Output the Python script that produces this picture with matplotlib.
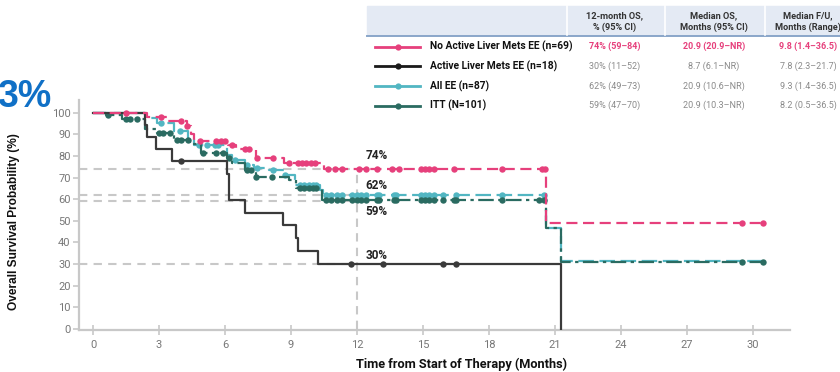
import numpy as np
import matplotlib
matplotlib.use("Agg")
import matplotlib.pyplot as plt
from matplotlib.patches import Rectangle
from matplotlib.lines import Line2D

plt.rcParams['font.family'] = ['Roboto', 'DejaVu Sans']

# --- Kaplan-Meier data (months, % surviving) ---
no_active_t = [0, 2.45, 3.35, 4.25, 4.45, 4.6, 6.15, 6.5, 7.4, 8.7, 10.5, 20.6, 30.5]
no_active_s = [100, 98, 96, 94, 90, 87, 85, 83, 79, 76.5, 74, 49, 49]
no_active_cens = [1.5, 3.1, 4.0, 4.27, 4.86, 5.6, 5.8, 6.0, 6.3, 6.9, 7.1, 7.45, 8.2,
                  8.9, 9.3, 9.5, 9.7, 9.9, 10.1, 10.7, 11.0, 11.3, 12.1, 12.4, 12.9,
                  13.6, 13.9, 14.9, 15.1, 15.3, 15.5, 16.4, 18.6, 20.4, 20.55, 29.5, 30.45]

active_t = [0, 2.36, 2.45, 2.86, 3.6, 6.1, 6.2, 6.9, 8.65, 9.25, 9.3, 10.25, 21.3]
active_s = [100, 94.4, 88.9, 83.3, 77.8, 71.8, 59.8, 53.8, 47.8, 41.8, 35.9, 29.9, 0]
active_cens = [4.0, 11.75, 13.2, 15.9, 16.5]

all_ee_t = [0, 2.4, 2.9, 3.7, 4.3, 4.6, 6.1, 6.3, 6.9, 7.3, 8.0, 8.7, 9.2, 10.3, 10.45,
            20.6, 21.3, 30.45]
all_ee_s = [100, 97.7, 95.2, 91.6, 88, 85, 80.4, 78, 75.8, 74.2, 73.5, 71, 66.5, 64, 62,
            46.5, 31.5, 31.5]
all_ee_cens = [3.1, 3.95, 4.8, 5.2, 5.55, 5.7, 6.45, 7.0, 7.45, 8.2, 8.75, 9.4, 9.6, 9.8,
               10.0, 10.15, 10.6, 10.8, 11.1, 11.3, 11.8, 12.0, 12.2, 12.4, 12.9, 13.0,
               13.7, 13.8, 14.9, 15.1, 15.3, 15.5, 15.9, 16.5, 18.6, 20.5]

itt_t = [0, 0.6, 1.3, 2.36, 2.9, 3.7, 4.4, 4.9, 6.1, 6.3, 6.9, 7.4, 8.9, 9.25, 10.4,
         20.6, 21.3, 30.45]
itt_s = [100, 99, 97, 92.5, 90.6, 87.5, 85.5, 81.5, 79, 76.5, 73.5, 70.3, 68.8, 65, 59.6,
         46.5, 31, 31]
itt_cens = [0.7, 1.5, 1.7, 2.0, 3.0, 3.2, 3.5, 3.8, 4.0, 4.3, 5.0, 5.6, 5.9, 6.2, 7.0,
            7.2, 7.4, 8.15, 9.4, 9.6, 9.8, 10.0, 10.15, 10.6, 10.8, 11.1, 11.3, 11.8,
            12.0, 12.2, 12.4, 12.9, 13.0, 13.7, 13.8, 14.9, 15.1, 15.3, 15.5, 15.9, 16.4,
            16.5, 18.6, 20.3, 20.5, 29.5, 30.45]

# 12-month landmark values
landmark_month = 12
landmark_vals = [74, 62, 59, 30]
landmark_text_y = [80.3, 66.5, 54.5, 33.7]

# legend table
group_labels = ["No Active Liver Mets EE (n=69)", "Active Liver Mets EE (n=18)",
                "All EE (n=87)", "ITT (N=101)"]
os12 = ["74% (59\u201384)", "30% (11\u201352)", "62% (49\u201373)", "59% (47\u201370)"]
median_os = ["20.9 (20.9\u2013NR)", "8.7 (6.1\u2013NR)", "20.9 (10.6\u2013NR)", "20.9 (10.3\u2013NR)"]
median_fu = ["9.8 (1.4\u201336.5)", "7.8 (2.3\u201321.7)", "9.3 (1.4\u201336.5)", "8.2 (0.5\u201336.5)"]
col_headers = ["12-month OS,\n% (95% CI)", "Median OS,\nMonths (95% CI)", "Median F/U,\nMonths (Range)"]

PINK = "#e6407c"
BLACK = "#1a1a1a"
LTEAL = "#52b6c2"
DTEAL = "#2a6b61"
GRID = "#c8c8c8"

fig = plt.figure(figsize=(8.4, 3.72), dpi=100)
ax = fig.add_axes([79 / 840, 42 / 372, 711 / 840, 230 / 372])

def km(t, s, cens, color, dashes, z):
    ax.step(t, s, where='post', color=color, lw=1.6, dashes=dashes, zorder=z)
    t = np.asarray(t)
    s = np.asarray(s)
    idx = np.searchsorted(t, cens, side='right') - 1
    ax.plot(cens, s[idx], 'o', color=color, ms=4.6, mec='none', zorder=z + 0.5)

# landmark reference lines
for v in landmark_vals:
    ax.plot([-0.64, landmark_month], [v, v], color=GRID, lw=1.5, dashes=(4, 3), zorder=1)
ax.plot([landmark_month, landmark_month], [0, landmark_vals[0]], color=GRID, lw=1.5,
        dashes=(4, 3), zorder=1)
for v, ty in zip(landmark_vals, landmark_text_y):
    ax.text(landmark_month + 0.4, ty, f"{v}%", fontsize=8.5, fontweight='bold',
            color='#222222', va='center', ha='left')

km(all_ee_t, all_ee_s, all_ee_cens, LTEAL, (7, 2.5), 3)
km(itt_t, itt_s, itt_cens, DTEAL, (7, 2, 1.5, 2), 4)
km(active_t, active_s, active_cens, "#3a3a3a", (None, None), 5)
km(no_active_t, no_active_s, no_active_cens, PINK, (5, 2.5), 6)

ax.set_xlim(-0.64, 31.7)
ax.set_ylim(-0.6, 105.9)
ax.set_xticks(range(0, 31, 3))
ax.set_yticks(range(0, 101, 10))
for sp in ['top', 'right']:
    ax.spines[sp].set_visible(False)
for sp in ['left', 'bottom']:
    ax.spines[sp].set_color(GRID)
    ax.spines[sp].set_linewidth(1.6)
ax.tick_params(axis='x', direction='inout', length=7, width=1.2, color=GRID,
               labelcolor='#777777', labelsize=8, pad=4)
ax.tick_params(axis='y', direction='out', length=4, width=1.2, color=GRID,
               labelcolor='#777777', labelsize=8, pad=2)
ax.set_xlabel("Time from Start of Therapy (Months)", fontsize=9.2, fontweight='bold',
              color='#111111')
ax.xaxis.set_label_coords((462 - 79) / 711, -(358 - 330) / 230)
ax.set_ylabel("Overall Survival Probability (%)", fontsize=8.6, fontweight='bold',
              color='#111111', family='Liberation Sans')
ax.yaxis.set_label_coords(-(79 - 20) / 711, (330 - 222) / 230)

# big cropped blue text in the corner
fig.text(-0.003, 1 - 97 / 372, "3%", fontsize=27, fontweight='bold', color='#1070c6',
         family='Liberation Sans', va='center', ha='left')

# --- legend table at top right ---
def fx(px):
    return px / 840

def fy(py):
    return 1 - py / 372

fig.patches.append(Rectangle((fx(367), fy(35)), fx(840 - 367), 29 / 372,
                             transform=fig.transFigure, color='#e4eaf4', zorder=0))
fig.lines.append(Line2D([fx(367), 1], [fy(36), fy(36)], transform=fig.transFigure,
                        color='#8aa6c9', lw=1.4))
for sx in [567, 665, 765]:
    fig.lines.append(Line2D([fx(sx), fx(sx)], [fy(6), fy(35)], transform=fig.transFigure,
                            color='white', lw=1.2))
col_x = [615, 714, 808]
for cx, h in zip(col_x, col_headers):
    fig.text(fx(cx), fy(21.5), h, fontsize=6.6, fontweight='bold', color='#333333',
             ha='center', va='center', linespacing=1.25)

row_y = [46.7, 66.3, 86, 105.7]
row_colors = [PINK, BLACK, LTEAL, DTEAL]
for i, ry in enumerate(row_y):
    fig.lines.append(Line2D([fx(375), fx(420)], [fy(ry), fy(ry)], transform=fig.transFigure,
                            color=row_colors[i], lw=2))
    fig.lines.append(Line2D([fx(398)], [fy(ry)], transform=fig.transFigure, marker='o',
                            ms=4.5, color=row_colors[i], mec='none'))
    fig.text(fx(430), fy(ry), group_labels[i], fontsize=7.4, fontweight='bold',
             color='#111111', va='center', ha='left')
    if i == 0:
        kw = dict(color=PINK, fontweight='bold')
    else:
        kw = dict(color='#8a8a8a')
    for cx, vals in zip(col_x, [os12, median_os, median_fu]):
        fig.text(fx(cx), fy(ry), vals[i], fontsize=6.5, va='center', ha='center', **kw)

fig.savefig("out.png", dpi=100)
